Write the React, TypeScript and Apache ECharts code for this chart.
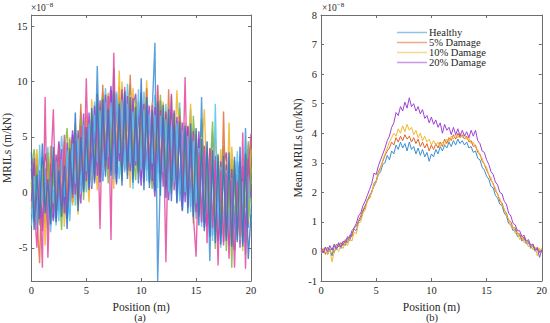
import React, { useEffect, useRef } from "react";
import * as echarts from "echarts";

// ---- Panel (a): individual MRIL curves (×1e-8 m/kN) ----
const POS_A = Array.from({ length: 81 }, (_, i) => i * 0.25);
const RUN_1 = [2.1,-2.4,3.0,-1.8, 1.9,-2.5,2.8,-1.2, 3.2,-1.5,2.6,-0.8, 3.9,-1.6,4.1,0.2, 4.8,-0.3,5.6,0.9, 6.4,1.2,6.8,1.6, 11.4,1.5,7.6,2.3, 8.2,2.0,11.2,1.8, 8.6,1.6,7.9,2.4, 8.3,1.2,7.5,2.1, 7.8,1.4,8.1,0.9, 7.2,13.5,-8.0,1.5, 7.0,0.6,6.4,1.2, 6.5,0.1,6.0,-0.4, 5.8,-0.8,5.2,-1.5, 5.0,-1.9,8.6,-2.6, 3.8,-6.2,3.5,-3.4, 3.0,-3.8,2.6,-4.0, 2.5,-4.2,2.0,-3.6, 2.8,-4.6,5.8,-3.2, 3.6];
const RUN_2 = [-1.5,2.6,-2.2,-6.4, 3.2,-2.8,2.4,-1.6, 2.9,-2.0,3.5,-1.2, 4.2,-0.9,3.6,-1.0, 5.3,-0.5,8.0,0.4, 6.9,0.8,7.3,2.0, 7.8,1.7,9.7,2.6, 8.9,1.9,8.3,2.2, 9.5,2.6,8.7,1.5, 10.6,2.3,7.9,1.8, 8.2,1.1,9.4,2.0, 7.6,1.3,7.9,0.9, 7.3,0.4,9.3,0.8, 6.6,0.0,6.1,-0.6, 5.9,-1.2,5.6,-1.0, 5.2,-2.2,4.6,-2.0, 4.0,-3.0,3.7,-3.6, 3.2,-3.9,7.3,-3.2, 2.6,-4.5,2.2,-3.8, 1.9,-4.1,3.1,-2.8, 4.6];
const RUN_3 = [1.2,-2.7,3.4,-1.3, 2.5,-3.2,2.0,-2.1, 3.8,-0.9,3.1,-1.8, 4.6,-0.4,5.0,-1.2, 6.2,0.1,5.8,1.3, 7.1,1.6,8.4,1.1, 8.6,2.4,8.0,1.9, 9.0,2.9,8.5,3.1, 11.0,2.2,9.2,3.0, 8.8,2.5,8.0,1.7, 8.5,2.4,7.6,1.6, 8.1,2.0,9.6,1.4, 7.6,1.1,7.2,0.7, 7.0,0.6,6.7,0.1, 6.3,-0.5,5.8,-0.6, 5.6,-1.4,5.0,-1.6, 4.5,-2.5,4.0,-2.4, 3.5,-3.3,3.0,-3.5, 6.3,-3.7,2.5,-2.9, 2.2,-3.6,1.8,-2.3, 3.9];
const RUN_4 = [-0.8,3.1,-2.9,2.0, -3.5,2.1,-3.0,2.6, -2.3,3.4,-1.7,3.9, -1.9,4.5,-0.8,5.2, -0.2,5.6,0.6,7.1, 1.0,7.2,1.8,7.8, 1.5,8.3,2.2,8.8, 2.1,9.2,1.6,8.9, 2.8,9.3,2.0,8.7, 1.9,8.5,2.4,8.2, 1.3,8.0,2.0,7.8, 1.0,7.7,1.7,7.4, 0.5,7.3,1.1,8.9, 0.2,6.8,-0.2,6.3, -0.9,5.9,-1.3,5.5, -1.8,4.8,-2.7,4.2, -3.1,4.0,-3.9,3.3, -4.2,2.8,-4.5,2.5, -4.8,2.1,-4.0,1.6, -5.0,2.4,-4.2,3.0, -0.5];
const RUN_5 = [0.9,-1.9,2.4,-3.0, 1.6,-1.2,3.6,-2.6, 2.0,-2.1,4.0,-0.6, 3.1,-1.4,4.8,0.6, 4.2,0.3,6.6,1.5, 5.6,0.9,7.0,2.4, 8.0,1.9,8.6,3.0, 7.4,2.4,9.4,2.7, 8.1,3.3,8.8,2.1, 7.6,2.8,8.4,1.9, 7.2,2.2,8.3,1.2, 6.9,1.8,7.2,1.0, 6.8,1.4,6.9,0.3, 6.2,0.8,6.4,-0.1, 5.5,-0.2,4.9,-2.8, 4.7,-1.5,4.4,-2.3, 3.6,-2.0,3.2,-5.1, 2.8,-3.0,2.7,-3.9, 2.0,-6.8,2.9,-4.3, 1.5,-3.3,2.1,-2.6, 2.4];
const RUN_6 = [-2.0,1.5,-3.4,4.3, -1.1,2.2,-3.3,1.5, -1.0,2.8,-2.6,3.0, -0.4,3.8,-2.0,4.4, 0.8,4.9,0.0,6.1, 1.9,6.2,0.6,7.0, 2.7,7.4,1.1,8.1, 3.2,8.1,1.2,9.1, 3.5,8.4,1.8,8.0, 2.6,7.3,2.8,9.3, 2.0,7.5,1.0,7.1, 2.6,7.0,0.4,6.9, 1.8,6.6,0.0,6.0, 0.9,6.2,-0.8,5.6, 0.0,5.1,-1.8,4.6, -1.0,4.0,-3.1,3.9, -2.0,3.3,-4.4,8.0, -3.4,2.3,-4.0,2.0, -3.8,1.3,-5.3,1.8, -4.3,1.0,-5.6,1.4, -2.7];
const RUN_7 = [2.8,-1.0,-5.0,1.0, -6.8,8.6,-5.9,1.8, 7.5,-2.4,4.4,-1.5, 5.2,-2.1,3.7,-0.5, 4.7,-1.1,6.0,0.2, 10.3,0.4,6.3,1.0, 7.0,-3.3,8.2,2.9, 8.7,-4.3,12.6,2.5, 7.7,1.8,9.5,2.7, 8.1,1.5,7.0,2.9, 9.0,0.9,7.8,2.5, 7.9,0.7,9.7,1.7, 6.7,-6.3,6.6,1.6, 6.0,-0.9,6.9,0.4, 10.4,-1.4,5.3,-2.1, -5.8,3.6,-2.7,4.1, -4.6,3.9,-3.2,2.9, -6.6,2.0,-4.8,1.7, -6.0,1.2,-6.8,1.0, -4.0,5.4,-6.9,2.2, 5.3];
const RUN_8 = [3.6,-3.4,1.6,-2.4, 4.4,-1.9,1.2,-2.9, 4.1,-2.7,2.0,-2.2, 2.4,-3.3,4.0,-0.2, 7.2,-1.7,5.0,0.0, 5.9,0.2,7.6,0.8, 8.9,0.9,8.4,1.4, 7.5,1.5,9.0,0.7, 8.0,0.6,9.1,1.2, 8.6,0.9,7.7,0.8, 10.3,0.2,8.6,0.4, 7.4,0.1,8.2,-0.3, 7.9,-0.5,7.5,-0.8, 7.1,-1.0,6.4,-1.7, 6.0,-1.9,6.2,-2.2, 5.8,-3.0,4.8,-3.5, 4.6,-4.0,3.8,-4.6, 3.4,-4.7,3.3,-4.4, 3.6,-4.9,3.2,-4.5, 4.1,-4.9,3.5,-6.0, -2.0];
const RUN_9 = [0.5,1.8,-1.2,-2.8, 0.4,3.5,2.0,-0.9, -2.6,0.8,4.6,1.9, -0.7,-2.4,2.2,5.6, 3.0,0.9,-1.0,4.3, 6.5,3.4,0.3,5.0, 8.4,5.2,1.0,3.8, 7.0,9.6,4.4,0.9, 5.6,8.9,6.3,2.0, 4.1,7.8,8.9,3.5, 0.6,5.2,8.6,6.1, 2.3,-0.4,4.9,8.3, 5.5,2.0,-0.7,4.1, 7.4,3.9,0.8,-1.6, 3.2,6.0,2.5,-1.1, 0.4,5.5,1.8,-3.2, -1.5,2.9,4.5,-0.6, -4.4,-1.2,2.4,3.6, -0.8,-3.9,-5.2,2.8, 0.9,-2.0,-4.6,3.9, 1.0];
const RUN_10 = [-3.0,-0.5,2.2,0.4, -2.2,0.9,4.1,-3.6, 0.2,-3.0,1.4,5.1, 2.0,0.0,-2.6,3.3, -1.2,2.6,7.3,3.9, 0.0,4.8,2.6,8.2, 4.9,0.9,6.3,9.4, 5.6,2.7,7.7,4.0, 1.2,6.9,4.8,9.8, 6.4,0.3,5.9,4.4, 3.1,9.1,5.3,0.8, 5.1,8.8,3.0,6.0, 3.5,8.0,0.2,5.3, 1.5,4.9,8.1,2.8, -0.3,4.0,7.5,1.6, -2.4,2.7,6.1,0.9, 2.1,-1.7,5.4,-2.9, 0.6,-5.0,4.2,-1.6, -2.7,1.8,-4.0,3.7, -2.1,0.4,-3.5,4.3, 0.8];
const RUN_11 = [2.0,3.9,0.6,-2.5, -0.5,1.0,-1.8,4.2, 1.1,-1.4,0.6,-3.4, 3.4,5.8,1.0,-0.9, 1.9,4.0,6.7,-0.7, 3.6,6.0,2.9,1.3, 3.5,6.8,9.0,5.0, 0.8,6.5,4.6,7.6, 4.2,1.0,7.2,5.5, 9.8,3.8,1.1,6.9, 4.6,2.8,6.9,3.2, 0.3,6.4,3.7,8.8, 2.8,6.1,3.1,-0.2, 5.0,1.9,7.6,3.7, 1.0,4.7,-0.4,6.9, 3.0,-0.8,6.6,1.0, -2.2,1.4,6.4,-0.8, 1.3,-2.4,3.9,-5.3, 0.1,3.0,-2.2,0.6, -3.1,1.2,-1.4,4.6, -1.0];
const RUN_12 = [-1.0,0.9,3.9,-0.3, 2.8,-4.8,0.5,3.0, -1.9,1.6,-0.4,2.4, -3.1,2.9,0.8,3.8, 1.7,-2.0,3.1,5.4, 2.9,-0.9,5.6,3.7, 0.2,6.1,3.6,7.1, 6.0,4.1,0.3,7.3, 3.6,10.0,3.9,6.6, 0.4,9.4,4.9,2.6, 6.8,3.7,10.1,2.9, 4.4,1.9,6.4,2.7, 8.2,4.7,1.7,8.7, 2.3,9.2,4.4,1.9, 4.8,2.0,8.0,0.5, 2.3,-1.3,3.4,7.5, 0.4,-3.6,2.0,4.9, -0.8,3.9,-2.0,-0.4, -2.1,4.1,0.3,-3.1, 0.0,-5.3,2.7,-0.9, 2.1];
const RUNS_A = [RUN_9, RUN_10, RUN_11, RUN_12, RUN_1, RUN_2, RUN_3, RUN_4, RUN_5, RUN_6, RUN_7, RUN_8];
const COLORS_A = ["#9a3fd0", "#55c3ef", "#7fb83a", "#eeb52c", "#3f8fd6", "#e0703a", "#eeb52c", "#9a3fd0", "#7fb83a", "#55c3ef", "#e3489f", "#2f74c8"];
const Y_TICKS_A = [-5, 0, 5, 10, 15];

// ---- Panel (b): mean MRIL curves (×1e-8 m/kN) ----
const POS_B = Array.from({ length: 101 }, (_, i) => i * 0.2);
const LABELS_B = ["Healthy", "5% Damage", "10% Damage", "20% Damage"];
const HEALTHY = [0.05,-0.05,0.15,-0.1,0.1,-0.15,0.2,0.05,0.25,0.1,
  0.3,0.2,0.45,0.35,0.6,0.75,0.7,1.0,1.1,1.35,
  1.5,1.75,1.8,2.05,2.2,2.35,2.6,2.7,2.95,3.0,
  3.25,3.1,3.4,3.3,3.6,3.45,3.7,3.5,3.65,3.4,
  3.7,3.45,3.55,3.3,3.5,3.25,3.45,3.2,3.35,3.05,
  3.3,3.2,3.45,3.3,3.55,3.4,3.6,3.5,3.7,3.55,
  3.75,3.6,3.8,3.65,3.75,3.6,3.7,3.5,3.55,3.35,
  3.4,3.15,3.1,2.85,2.75,2.55,2.45,2.2,2.15,1.9,
  1.8,1.6,1.55,1.3,1.2,0.95,0.9,0.7,0.75,0.5,
  0.55,0.35,0.45,0.25,0.3,0.1,0.2,0.0,0.1,-0.05,
  0.05];
const DAMAGE_5 = [0.0,0.1,-0.1,0.15,0.0,0.1,-0.05,0.25,0.15,0.3,
  0.2,0.4,0.3,0.55,0.5,0.8,0.85,1.05,1.2,1.4,
  1.55,1.7,1.9,2.0,2.3,2.4,2.7,2.85,3.05,3.25,
  3.4,3.5,3.7,3.6,3.85,3.7,3.9,3.75,3.95,3.8,
  3.9,3.7,3.85,3.65,3.8,3.55,3.7,3.5,3.65,3.4,
  3.6,3.45,3.65,3.5,3.7,3.55,3.8,3.65,3.85,3.75,
  3.95,3.8,4.0,3.85,3.95,3.8,3.9,3.7,3.75,3.55,
  3.6,3.35,3.3,3.05,2.95,2.75,2.6,2.4,2.3,2.05,
  1.95,1.7,1.65,1.4,1.3,1.05,1.0,0.8,0.8,0.6,
  0.6,0.4,0.5,0.3,0.35,0.15,0.25,0.05,0.15,0.0,
  0.1];
const DAMAGE_10 = [-0.05,0.05,0.1,-0.1,0.05,-0.35,0.0,0.1,0.0,0.2,
  0.1,0.3,0.2,0.45,0.35,0.65,0.6,0.95,1.0,1.3,
  1.4,1.7,1.8,2.0,2.25,2.35,2.65,2.8,3.1,3.3,
  3.5,3.7,3.85,4.0,3.9,4.15,4.0,4.25,4.05,4.3,
  4.1,4.2,3.95,4.1,3.85,4.0,3.75,3.9,3.7,3.8,
  3.6,3.75,3.6,3.7,3.55,3.7,3.6,3.8,3.7,3.9,
  3.8,3.95,3.85,4.0,3.85,3.95,3.8,3.85,3.65,3.7,
  3.5,3.45,3.25,3.15,2.95,2.85,2.6,2.5,2.25,2.15,
  1.9,1.8,1.55,1.45,1.2,1.1,0.85,0.85,0.6,0.65,
  0.4,0.5,0.3,0.35,0.15,0.25,0.05,0.15,-0.15,0.1,
  0.0];
const DAMAGE_20 = [0.1,-0.05,0.15,0.0,0.2,0.05,0.25,0.1,0.3,0.15,
  0.35,0.3,0.5,0.45,0.7,0.8,0.95,1.2,1.3,1.55,
  1.7,1.9,2.1,2.3,2.65,2.6,2.9,3.1,3.3,3.5,
  3.75,3.9,4.2,4.35,4.7,4.6,4.9,4.75,5.05,4.85,
  5.2,4.9,5.0,4.75,4.9,4.65,4.8,4.5,4.6,4.35,
  4.55,4.3,4.45,4.2,4.35,4.0,4.3,4.1,4.2,3.95,
  4.2,3.95,4.15,3.9,4.1,3.9,4.05,3.85,4.1,3.9,
  4.1,3.75,3.65,3.4,3.35,3.1,2.95,2.7,2.6,2.35,
  2.25,2.0,1.95,1.7,1.6,1.3,1.2,0.95,0.9,0.7,
  0.7,0.5,0.55,0.35,0.4,0.2,0.25,0.05,0.1,-0.2,
  0.05];
const SERIES_B = [HEALTHY, DAMAGE_5, DAMAGE_10, DAMAGE_20];
const COLORS_B = ["#3a8fd3", "#e0652a", "#efb832", "#9c45d6"];

const FONT = "Liberation Serif, Times New Roman, serif";
const TXT = "#262626";
const AXC = "#6e6e6e";

export default function App() {
  const ref = useRef<HTMLDivElement>(null);
  useEffect(() => {
    if (!ref.current) return;
    const chart = echarts.init(ref.current, undefined, { renderer: "svg" });

    const boxAxis = (grid: number, pos: string, min: number, max: number, interval: number, extra: any = {}) => ({
      type: "value",
      gridIndex: grid,
      position: pos,
      min,
      max,
      interval,
      axisLine: { show: true, onZero: false, lineStyle: { color: AXC, width: 1 } },
      axisTick: { show: true, inside: true, length: 3, lineStyle: { color: AXC } },
      axisLabel: { show: false },
      splitLine: { show: false },
      ...extra,
    });

    const labelStyle = { show: true, color: TXT, fontFamily: FONT, fontSize: 10.5, margin: 4 };
    const nameStyle = { color: TXT, fontFamily: FONT, fontSize: 11.5, lineHeight: 11 };

    const series: any[] = [];
    RUNS_A.forEach((run, k) => {
      series.push({
        type: "line",
        xAxisIndex: 0,
        yAxisIndex: 0,
        data: run.map((v, i) => [POS_A[i], v]),
        showSymbol: false,
        symbol: "none",
        lineStyle: { width: 1.4, color: COLORS_A[k], opacity: 0.85 },
        silent: true,
      });
    });
    SERIES_B.forEach((vals, k) => {
      series.push({
        type: "line",
        name: LABELS_B[k],
        xAxisIndex: 2,
        yAxisIndex: 2,
        data: vals.map((v, i) => [POS_B[i], v]),
        showSymbol: false,
        symbol: "none",
        color: COLORS_B[k],
        lineStyle: { width: 1, color: COLORS_B[k] },
        silent: true,
      });
    });

    chart.setOption({
      animation: false,
      backgroundColor: "#ffffff",
      grid: [
        { left: 29, right: 299, top: 15, bottom: 42 },
        { left: 321, right: 7, top: 15, bottom: 42 },
      ],
      xAxis: [
        boxAxis(0, "bottom", 0, 20, 5, {
          axisLabel: labelStyle,
          name: "Position (m)",
          nameLocation: "middle",
          nameGap: 13,
          nameTextStyle: nameStyle,
        }),
        boxAxis(0, "top", 0, 20, 5),
        boxAxis(1, "bottom", 0, 20, 5, {
          axisLabel: labelStyle,
          name: "Position (m)",
          nameLocation: "middle",
          nameGap: 13,
          nameTextStyle: nameStyle,
        }),
        boxAxis(1, "top", 0, 20, 5),
      ],
      yAxis: [
        {
          ...boxAxis(0, "left", -8, 16, 1),
          axisTick: { show: true, inside: true, length: 3, lineStyle: { color: AXC }, customValues: Y_TICKS_A },
          axisLabel: { ...labelStyle, customValues: Y_TICKS_A },
          name: "MRILs (m/kN)",
          nameLocation: "middle",
          nameGap: 15,
          nameTextStyle: nameStyle,
        },
        {
          ...boxAxis(0, "right", -8, 16, 1),
          axisTick: { show: true, inside: true, length: 3, lineStyle: { color: AXC }, customValues: Y_TICKS_A },
        },
        boxAxis(1, "left", -1, 8, 1, {
          axisLabel: labelStyle,
          name: "Mean MRILs (m/kN)",
          nameLocation: "middle",
          nameGap: 12,
          nameTextStyle: nameStyle,
        }),
        boxAxis(1, "right", -1, 8, 1),
      ],
      legend: {
        orient: "vertical",
        left: 392,
        top: 22,
        itemGap: -1,
        itemWidth: 30,
        itemHeight: 1.5,
        icon: "rect",
        selectedMode: false,
        data: LABELS_B.map((n, k) => ({ name: n, itemStyle: { color: COLORS_B[k], opacity: 0.55 } })),
        textStyle: { color: TXT, fontFamily: FONT, fontSize: 10.5, lineHeight: 11, padding: [0, 0, 0, -3] },
      },
      graphic: [
        {
          type: "text",
          left: 31,
          top: 1,
          style: {
            text: "{a|×10}{b|−8}",
            rich: {
              a: { fontFamily: FONT, fontSize: 9.5, fill: TXT, lineHeight: 12, verticalAlign: "bottom" },
              b: { fontFamily: FONT, fontSize: 7, fill: TXT, lineHeight: 12, verticalAlign: "top" },
            },
          },
        },
        {
          type: "text",
          left: 322,
          top: 1,
          style: {
            text: "{a|×10}{b|−8}",
            rich: {
              a: { fontFamily: FONT, fontSize: 9.5, fill: TXT, lineHeight: 12, verticalAlign: "bottom" },
              b: { fontFamily: FONT, fontSize: 7, fill: TXT, lineHeight: 12, verticalAlign: "top" },
            },
          },
        },
        {
          type: "text",
          x: 140,
          y: 317,
          style: { text: "(a)", fontFamily: FONT, fontSize: 10.5, fill: TXT, align: "center", verticalAlign: "middle" },
        },
        {
          type: "text",
          x: 432,
          y: 317,
          style: { text: "(b)", fontFamily: FONT, fontSize: 10.5, fill: TXT, align: "center", verticalAlign: "middle" },
        },
      ],
      series,
    });
    return () => chart.dispose();
  }, []);
  return <div ref={ref} style={{ position: "fixed", left: 0, top: 0, width: 550, height: 323, background: "#fff" }} />;
}
